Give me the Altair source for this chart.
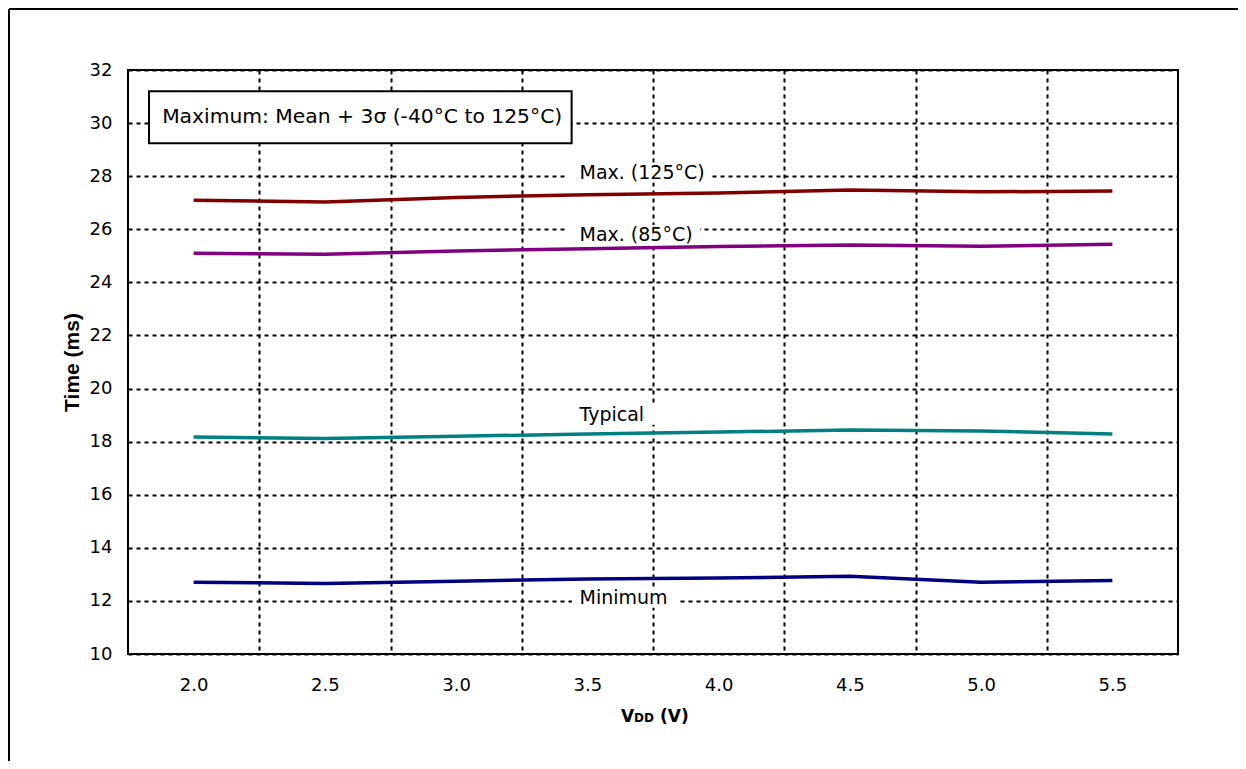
import altair as alt
import pandas as pd

# ---- data ----
vdd = [2.0, 2.5, 3.0, 3.5, 4.0, 4.5, 5.0, 5.5]
max125 = [27.09, 27.03, 27.20, 27.30, 27.37, 27.48, 27.41, 27.44]
max85 = [25.10, 25.06, 25.18, 25.27, 25.35, 25.41, 25.36, 25.44]
typical = [18.17, 18.12, 18.20, 18.29, 18.36, 18.44, 18.40, 18.29]
minimum = [12.70, 12.66, 12.74, 12.83, 12.86, 12.93, 12.70, 12.77]

series_names = ["Max. (125°C)", "Max. (85°C)", "Typical", "Minimum"]
series_vals = [max125, max85, typical, minimum]
series_colors = ["#800000", "#800080", "#008080", "#000080"]

x_ticks = vdd
x_grid = [2.25, 2.75, 3.25, 3.75, 4.25, 4.75, 5.25]
y_ticks = list(range(10, 33, 2))

# line label anchors (data coords) and their white backgrounds
label_x = [3.47, 3.47, 3.47, 3.47]
label_y = [28.13, 25.80, 19.00, 12.10]
label_bg_x0 = [3.415, 3.419, 3.42, 3.441]
label_bg_x1 = [3.967, 3.929, 3.76, 3.845]
label_bg_half = 0.36

# annotation box (data coords)
box_x = [1.83]
box_x2 = [3.44]
box_y = [31.20]
box_y2 = [29.24]
note_text = ["Maximum: Mean + 3σ (-40°C to 125°C)"]
note_x = [1.88]
note_y = [30.22]

rows = []
for name, vals in zip(series_names, series_vals):
    for v, t in zip(vdd, vals):
        rows.append({"vdd": v, "time": t, "series": name})
df = pd.DataFrame(rows)

xscale = alt.Scale(domain=[1.75, 5.75], nice=False, zero=False)
yscale = alt.Scale(domain=[10, 32], nice=False, zero=False)

W, H = 1050, 584
PAD = {"left": 120, "top": 62, "right": 60, "bottom": 107}

grid_common = dict(gridDash=[4, 4], gridColor="black", gridWidth=2, gridOpacity=1)

gridx = alt.Chart(pd.DataFrame({"g": x_grid})).mark_point(opacity=0).encode(
    x=alt.X("g:Q", scale=xscale,
            axis=alt.Axis(values=x_grid, orient="top", grid=True, labels=False, ticks=False,
                          domain=False, title=None, **grid_common)),
)

lines = alt.Chart(df).mark_line(strokeWidth=3.5, strokeCap="butt").encode(
    x=alt.X("vdd:Q", scale=xscale,
            axis=alt.Axis(values=x_ticks, orient="bottom", format=".1f", grid=False, ticks=False,
                          domain=False, labelFont="DejaVu Sans", labelFontSize=18, labelPadding=22,
                          labelColor="black", title=None)),
    y=alt.Y("time:Q", scale=yscale,
            axis=alt.Axis(values=y_ticks, orient="left", grid=True, ticks=False, domain=False,
                          labelFont="DejaVu Sans", labelFontSize=18, labelPadding=16,
                          labelColor="black", title="Time (ms)", titleFont="Liberation Sans",
                          titleFontSize=21, titleFontWeight="bold", titleColor="black",
                          titlePadding=7, **grid_common)),
    color=alt.Color("series:N", scale=alt.Scale(domain=series_names, range=series_colors),
                    legend=None),
)

box_df = pd.DataFrame({"x": box_x, "x2": box_x2, "y": box_y, "y2": box_y2})
box = alt.Chart(box_df).mark_rect(fill="white", stroke="black", strokeWidth=2).encode(
    x=alt.X("x:Q", scale=xscale, axis=None),
    x2="x2:Q",
    y=alt.Y("y:Q", scale=yscale, axis=None),
    y2="y2:Q",
)

note_df = pd.DataFrame({"x": note_x, "y": note_y, "t": note_text})
note = alt.Chart(note_df).mark_text(align="left", baseline="middle", font="DejaVu Sans",
                                    fontSize=20.3, color="black").encode(
    x=alt.X("x:Q", scale=xscale, axis=None),
    y=alt.Y("y:Q", scale=yscale, axis=None),
    text="t:N",
)

lab_df = pd.DataFrame({
    "x": label_x, "y": label_y, "t": series_names,
    "bx0": label_bg_x0, "bx1": label_bg_x1,
    "by0": [v - label_bg_half for v in label_y], "by1": [v + label_bg_half for v in label_y],
})
lab_bg = alt.Chart(lab_df).mark_rect(fill="white", strokeWidth=0).encode(
    x=alt.X("bx0:Q", scale=xscale, axis=None),
    x2="bx1:Q",
    y=alt.Y("by0:Q", scale=yscale, axis=None),
    y2="by1:Q",
)
lab = alt.Chart(lab_df).mark_text(align="left", baseline="middle", font="DejaVu Sans",
                                  fontSize=19, color="black").encode(
    x=alt.X("x:Q", scale=xscale, axis=None),
    y=alt.Y("y:Q", scale=yscale, axis=None),
    text="t:N",
)

# x-axis title "VDD (V)" with smaller DD
one = pd.DataFrame({"a": [0]})
xt_v = alt.Chart(one).mark_text(text="V", align="left", baseline="alphabetic",
                                font="DejaVu Sans", fontWeight="bold", fontSize=17,
                                color="black").encode(x=alt.value(493), y=alt.value(652))
xt_dd = alt.Chart(one).mark_text(text="DD", align="left", baseline="alphabetic",
                                 font="DejaVu Sans", fontWeight="bold", fontSize=12,
                                 color="black").encode(x=alt.value(506), y=alt.value(652))
xt_u = alt.Chart(one).mark_text(text="(V)", align="left", baseline="alphabetic",
                                font="DejaVu Sans", fontWeight="bold", fontSize=17,
                                color="black").encode(x=alt.value(532), y=alt.value(652))

# outer frame (left and top edges)
frame_left = alt.Chart(one).mark_rule(color="black", strokeWidth=2).encode(
    x=alt.value(-119), y=alt.value(-61), y2=alt.value(H + PAD["bottom"]))
frame_top = alt.Chart(one).mark_rule(color="black", strokeWidth=2).encode(
    x=alt.value(-119), x2=alt.value(W + PAD["right"]), y=alt.value(-61))

chart = alt.layer(
    gridx, lines, box, note, lab_bg, lab, xt_v, xt_dd, xt_u, frame_left, frame_top
).resolve_axis(x="independent", y="independent").properties(
    width=W, height=H, padding=PAD, autosize=alt.AutoSizeParams(type="none"),
    background="white"
).configure_view(stroke="black", strokeWidth=2)

chart.save("out.html", embed_options={"renderer": "svg", "actions": False})
